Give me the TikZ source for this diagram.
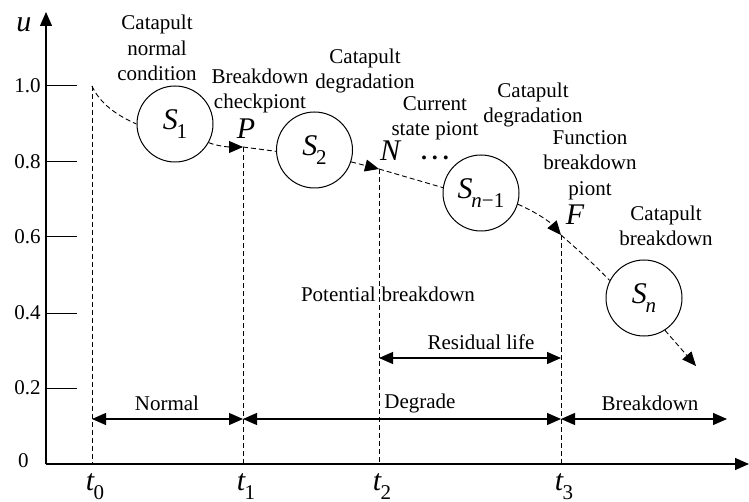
\documentclass[tikz,border=0pt]{standalone}
\usepackage{fontspec}
\setmainfont{Liberation Serif}
\usetikzlibrary{arrows.meta}
\newcommand{\symb}[2]{\textit{#1}\kern-0.04em\raisebox{-0.3em}{\fontsize{10.5}{10.5}\selectfont #2}}
\tikzset{
  axisline/.style={line width=0.6pt,-{Triangle[length=7pt,width=6pt]}},
  tickline/.style={line width=0.5pt},
  vdash/.style={line width=0.45pt,dash pattern=on 2.5pt off 1.5pt},
  flow/.style={line width=0.45pt,dash pattern=on 2.5pt off 1.5pt,-{Triangle[length=7pt,width=6pt]}},
  flowplain/.style={line width=0.45pt,dash pattern=on 2.5pt off 1.5pt},
  span/.style={line width=0.6pt,{Triangle[length=7pt,width=6pt]}-{Triangle[length=7pt,width=6pt]}},
  state/.style={circle,draw,line width=0.5pt,minimum size=38pt,inner sep=0pt,font=\fontsize{15}{15}\selectfont},
  lbl/.style={align=center,inner sep=0pt,font=\fontsize{10.5}{12.7}\selectfont},
  bigit/.style={inner sep=0pt,font=\fontsize{15}{15}\selectfont\itshape},
  tlbl/.style={inner sep=0pt,font=\fontsize{15}{15}\selectfont},
  dotlbl/.style={inner sep=0pt,font=\fontsize{12}{12}\selectfont\bfseries}
}
\begin{document}
\begin{tikzpicture}[x=0.5pt,y=-0.5pt]
\useasboundingbox (0,0) rectangle (749,502);
% axes
\coordinate (O) at (46,464);
\coordinate (ytop) at (46,12);
\coordinate (xend) at (749,464);
\draw[axisline] (O) -- (ytop);
\draw[axisline] (O) -- (xend);
\node[bigit] (ulab) at (24,25) {u};
% ticks
\foreach \v/\yy/\nm in {1.0/86/a,0.8/162/b,0.6/237/c,0.4/313/d,0.2/388/e}{
  \coordinate (tk\nm) at (46,\yy);
  \coordinate (tke\nm) at (77,\yy);
  \draw[tickline] (tk\nm) -- (tke\nm);
  \node[lbl,anchor=east] (tl\nm) at (41,\yy) {\v};
}
\node[lbl,anchor=east] (tlz) at (29,461) {0};
% key points
\coordinate (T0) at (92,86);
\coordinate (P) at (243,147);
\coordinate (N) at (379,169);
\coordinate (F) at (561,235);
\coordinate (B0) at (92,464);
\coordinate (B1) at (243,464);
\coordinate (B2) at (379,464);
\coordinate (B3) at (561,464);
\coordinate (E) at (696,366);
% states
\node[state] (S1) at (175,124) {\symb{S}{1}};
\node[state] (S2) at (314.5,150) {\symb{S}{2}};
\node[state] (Sn1) at (481,193) {\symb{S}{\textit{n}−1}};
\node[state] (Sn) at (644,298) {\symb{S}{\textit{n}}};
% vertical dashed lines
\draw[vdash] (T0) -- (B0);
\draw[vdash] (P) -- (B1);
\draw[vdash] (N) -- (B2);
\draw[vdash] (F) -- (B3);
% flow curve
\draw[flowplain] (T0) .. controls (100,104) and (118,116) .. (S1.180);
\draw[flow] (S1.-29) .. controls (220,147) and (232,147) .. (P);
\draw[flowplain] (P) -- (S2.182);
\draw[flow] (S2.-18) -- (N);
\draw[flowplain] (N) -- (Sn1.172);
\draw[flow] (Sn1.-17) .. controls (536,212) and (550,222) .. (F);
\draw[flowplain] (F) .. controls (578,250) and (594,264) .. (Sn.153);
\draw[flow] (Sn.-57) -- (E);
% point labels
\node[bigit] (Plab) at (246,129) {P};
\node[bigit] (Nlab) at (390,151) {N};
\node[bigit] (Flab) at (575,215) {F};
\node[dotlbl] (dots) at (435,158) {.\kern2.5pt.\kern2.5pt.};
% text labels
\node[lbl] (c1) at (157,48) {Catapult\\normal\\condition};
\node[lbl] (c2) at (260,91) {Breakdown\\checkpiont};
\node[lbl] (c3) at (365,71) {Catapult\\degradation};
\node[lbl] (c4) at (435,118) {Current\\state piont};
\node[lbl] (c5) at (533,105) {Catapult\\degradation};
\node[lbl] (c6) at (590,165) {Function\\breakdown\\piont};
\node[lbl] (c7) at (666,226) {Catapult\\breakdown};
\node[lbl] (c8) at (388,294) {Potential\kern3pt breakdown};
% residual life
\coordinate (R2) at (379,358);
\coordinate (R3) at (561,358);
\draw[span] (R2) -- (R3);
\node[lbl] (rl) at (481,342) {Residual life};
% bottom spans
\coordinate (A0) at (92,419);
\coordinate (A1) at (243,419);
\coordinate (A3) at (561,419);
\coordinate (A4) at (727,419);
\draw[span] (A0) -- (A1);
\draw[span] (A1) -- (A3);
\draw[span] (A3) -- (A4);
\node[lbl] (nm) at (167,403) {Normal};
\node[lbl] (dg) at (420,403) {Degrade};
\node[lbl] (bd) at (650,403) {Breakdown};
% time labels
\node[tlbl] (t0) at (95,487) {\symb{t}{0}};
\node[tlbl] (t1) at (246,487) {\symb{t}{1}};
\node[tlbl] (t2) at (382,487) {\symb{t}{2}};
\node[tlbl] (t3) at (564,487) {\symb{t}{3}};
\end{tikzpicture}
\end{document}
